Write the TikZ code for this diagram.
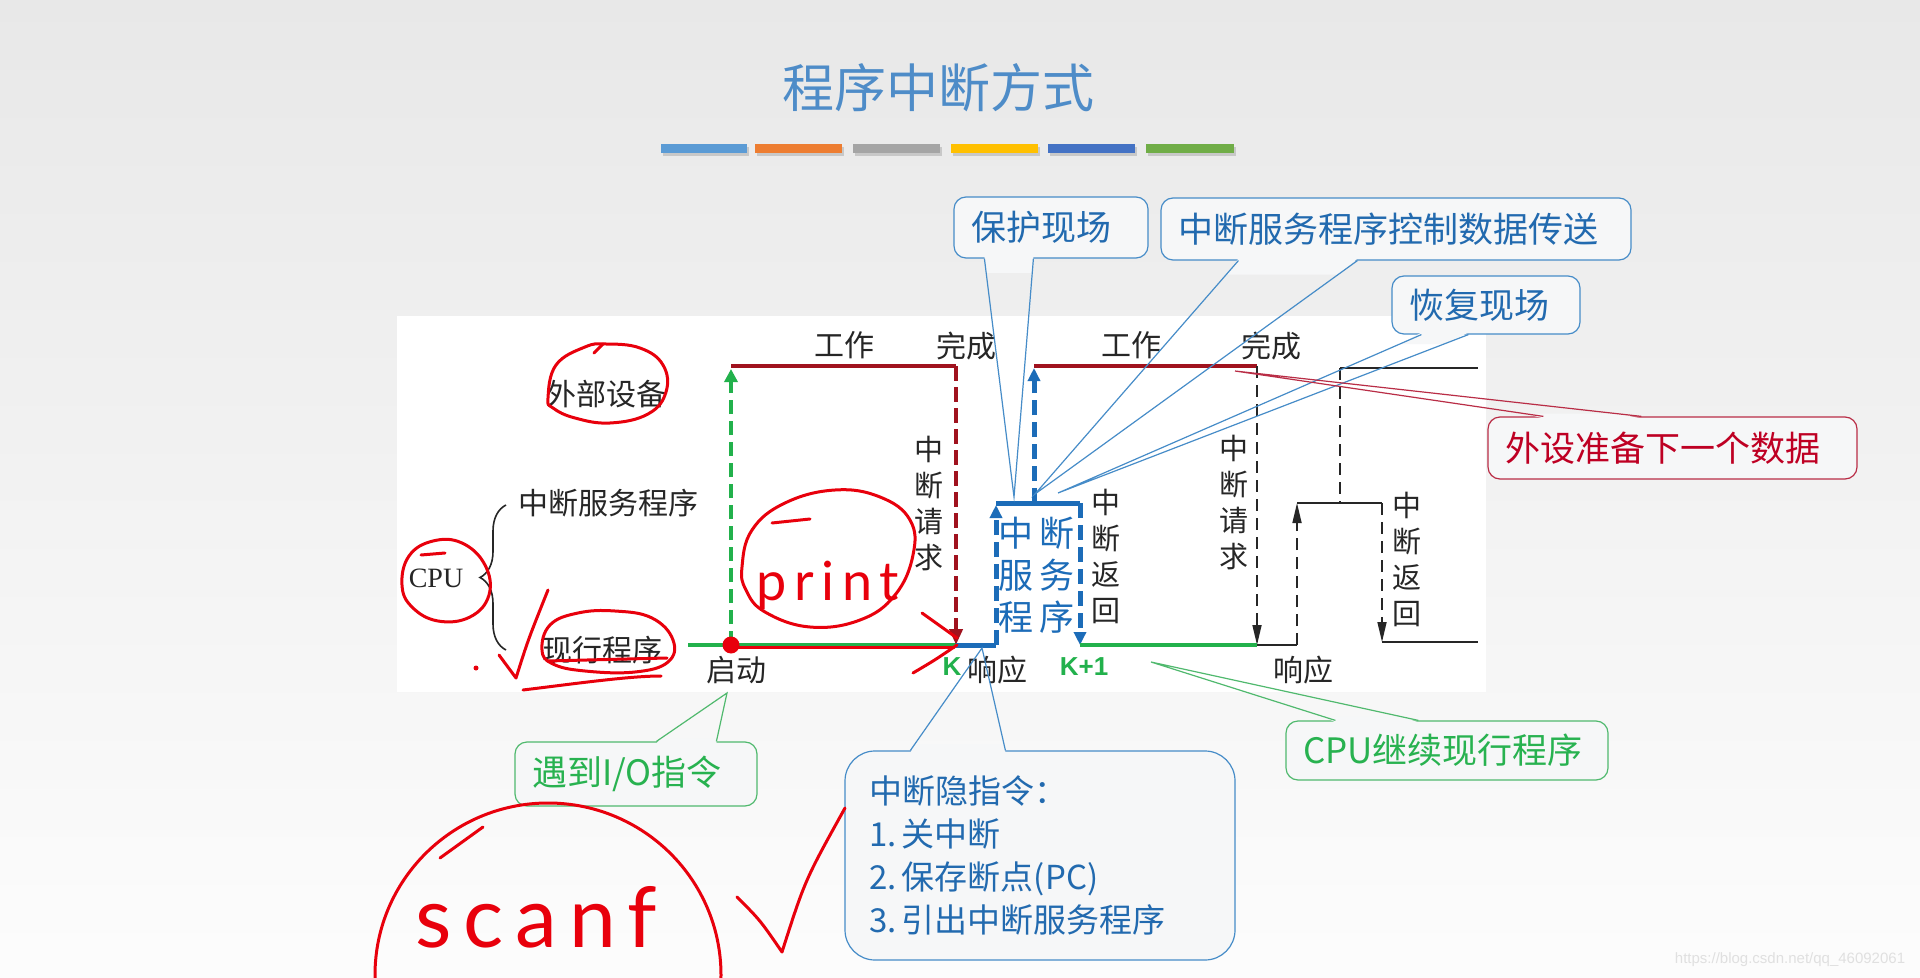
\documentclass[tikz,border=0pt]{standalone}
\usepackage{fontspec}
\setmainfont{Noto Sans CJK SC}
\newfontfamily\enserif{Liberation Serif}
\newfontfamily\ensans{Liberation Sans}
\newfontfamily\handA{Lato}[LetterSpace=14]
\newfontfamily\handB{Lato}[LetterSpace=14]
\usetikzlibrary{arrows.meta,calc,decorations.pathreplacing}

\definecolor{devred}{RGB}{160,18,30}
\definecolor{cpugreen}{RGB}{34,177,76}
\definecolor{isrblue}{RGB}{28,108,184}
\definecolor{penred}{RGB}{232,0,12}
\definecolor{callblue}{RGB}{34,106,175}
\definecolor{callblueline}{RGB}{70,140,200}
\definecolor{callred}{RGB}{190,0,35}
\definecolor{callredline}{RGB}{185,45,70}
\definecolor{callgreen}{RGB}{40,178,80}
\definecolor{callgreenline}{RGB}{80,185,110}
\definecolor{titleblue}{RGB}{78,140,200}
\definecolor{boxfill}{RGB}{246,247,248}
\definecolor{barA}{RGB}{91,155,213}
\definecolor{barB}{RGB}{237,125,49}
\definecolor{barC}{RGB}{165,165,165}
\definecolor{barD}{RGB}{255,192,0}
\definecolor{barE}{RGB}{68,114,196}
\definecolor{barF}{RGB}{112,173,71}

\newcommand\mkptr[5]{%
  \fill[boxfill] ($(#1)+(0,#5)$) -- ($(#2)+(0,#5)$) -- ($(#2)!0.06!(#3)$) -- ($(#1)!0.06!(#3)$) -- cycle;
  \draw[#4, line width=0.6pt] (#1) -- (#3) -- (#2);}

\begin{document}
\begin{tikzpicture}[x=0.5pt,y=-0.5pt,
  lbl/.style={inner sep=0pt, text=black!85, font=\fontsize{15pt}{18pt}\selectfont},
  vlbl/.style={inner sep=0pt, align=center, text=black!85, font=\fontsize{14.5pt}{18pt}\selectfont},
  kl/.style={inner sep=0pt, text=cpugreen, font=\ensans\bfseries\fontsize{13pt}{15pt}\selectfont},
  isrtxt/.style={inner sep=0pt, align=center, text=isrblue, font=\fontsize{17.5pt}{21pt}\selectfont},
  callout/.style={draw, rounded corners=6pt, fill=boxfill, line width=0.6pt, inner xsep=8.5pt, inner ysep=0pt, align=left, font=\fontsize{17.5pt}{21pt}\selectfont},
  bluecall/.style={callout, draw=callblueline, text=callblue},
  redcall/.style={callout, draw=callredline, text=callred},
  greencall/.style={callout, draw=callgreenline, text=callgreen},
  devline/.style={devred, line width=2pt},
  cpuline/.style={cpugreen, line width=2pt},
  isrline/.style={isrblue, line width=2.5pt},
  blk/.style={black!85, line width=1pt},
  reddash/.style={devred, line width=2pt, dash pattern=on 7.5pt off 3pt, -{Triangle[length=8pt,width=6.5pt]}},
  greendash/.style={cpugreen, line width=2pt, dash pattern=on 7pt off 3.5pt, -{Triangle[length=6.5pt,width=6.5pt]}},
  bluedash/.style={isrblue, line width=2.5pt, dash pattern=on 7.5pt off 3.5pt, -{Triangle[length=6.5pt,width=6pt]}},
  blkdash/.style={black!85, line width=0.8pt, dash pattern=on 6pt off 3.5pt},
  blkarrow/.style={blkdash, -{Triangle[length=10pt,width=4.5pt]}},
  pen/.style={penred, line width=1.5pt, line cap=round, line join=round}
]
\useasboundingbox (0,0) rectangle (1920,978);
\begin{scope}
\clip (0,0) rectangle (1920,978);
\shade[top color=black!9, bottom color=black!1] (0,0) rectangle (1920,978);

% title and bars
\node[inner sep=0pt, text=titleblue, font=\fontsize{26pt}{30pt}\selectfont] (title) at (938,88) {程序中断方式};
\foreach \xa/\xb/\c in {661/747/barA, 755/842/barB, 853/940/barC, 951/1038/barD, 1048/1135/barE, 1146/1234/barF}{
  \fill[black!35, opacity=0.5] (\xa+2,147) rectangle (\xb+2,156);
  \fill[\c] (\xa,144) rectangle (\xb,153);
}

% diagram area
\fill[white] (397,316) rectangle (1486,692);

% coordinates
\coordinate (c0) at (688,645);
\coordinate (s) at (731,645);
\coordinate (sT) at (731,366);
\coordinate (k) at (956,645);
\coordinate (kT) at (956,366);
\coordinate (r1) at (996,645);
\coordinate (r1T) at (996,503);
\coordinate (k1T) at (1080,503);
\coordinate (k1) at (1080,645);
\coordinate (d2B) at (1034,503);
\coordinate (d2T) at (1034,366);
\coordinate (q2T) at (1257,366);
\coordinate (q2) at (1257,645);
\coordinate (r2) at (1297,645);
\coordinate (r2T) at (1297,503);
\coordinate (m2) at (1340,503);
\coordinate (m2T) at (1340,368);
\coordinate (x2T) at (1382,503);
\coordinate (x2) at (1382,642);
\coordinate (e2) at (1478,642);
\coordinate (e2T) at (1478,368);

% timeline
\draw[cpuline] (c0) -- (k);
\draw[devline] (sT) -- (kT);
\draw[greendash] (s) -- ($(sT)+(0,3)$);
\draw[reddash] (kT) -- (k);
\draw[isrline] (k) -- (r1);
\draw[bluedash] (r1) -- ($(r1T)+(0,2)$);
\draw[isrline] (r1T) -- (k1T);
\draw[bluedash] (k1T) -- (k1);
\draw[bluedash] (d2B) -- ($(d2T)+(0,2)$);
\draw[devline] (d2T) -- (q2T);
\draw[blkarrow] (q2T) -- (q2);
\draw[cpuline] (k1) -- (q2);
\draw[blk] (q2) -- (r2);
\draw[blkarrow] (r2) -- (r2T);
\draw[blk] (r2T) -- (x2T);
\draw[blkdash] (m2T) -- (m2);
\draw[blkarrow] (x2T) -- (x2);
\draw[blk] (x2) -- (e2);
\draw[blk] (m2T) -- (e2T);

% labels
\node[lbl] (w1) at (844,345) {工作};
\node[lbl] (c1) at (966,346) {完成};
\node[lbl] (w2) at (1131,345) {工作};
\node[lbl] (c2) at (1271,346) {完成};
\node[lbl] (qd) at (736,670) {启动};
\node[lbl] (xy1) at (997,670) {响应};
\node[lbl] (xy2) at (1303,670) {响应};
\node[vlbl] (rq1) at (929,504) {中\\断\\请\\求};
\node[vlbl] (rq2) at (1234,503) {中\\断\\请\\求};
\node[vlbl] (rt1) at (1106,556) {中\\断\\返\\回};
\node[vlbl] (rt2) at (1407,559) {中\\断\\返\\回};
\node[kl] (K) at (952,667) {K};
\node[kl] (K1) at (1084,667) {K+1};
\node[lbl] (dev) at (606,394) {外部设备};
\node[lbl] (isr) at (608,503) {中断服务程序};
\node[lbl] (cur) at (602,650) {现行程序};
\node[inner sep=0pt, text=black!85, font=\enserif\fontsize{14pt}{16pt}\selectfont] (cpu) at (436,578) {CPU};
\draw[decorate, decoration={brace, amplitude=13pt}, black!85, line width=0.8pt] (506,650) -- (506,505);
\node[isrtxt] (isrb) at (1036,575) {中\kern3pt 断\\服\kern3pt 务\\程\kern3pt 序};

% callouts
\node[bluecall, text width=80pt, minimum height=30.5pt] (bh) at (1051,227.5) {保护现场};
\node[bluecall, text width=218pt, minimum height=31pt] (zd) at (1396,229) {中断服务程序控制数据传送};
\node[bluecall, text width=77pt, minimum height=29pt] (hf) at (1486,305) {恢复现场};
\node[redcall, text width=167.5pt, minimum height=31pt] (ws) at (1672.5,448) {外设准备下一个数据};
\node[greencall, text width=144pt, minimum height=29.5pt] (cj) at (1447,750.5) {CPU继续现行程序};
\node[greencall, text width=104pt, minimum height=32pt] (io) at (636,774) {遇到I/O指令};
\node[bluecall, rounded corners=15pt, inner xsep=12pt, text width=171pt, minimum height=104.5pt, font=\fontsize{16.5pt}{21.5pt}\selectfont] (zy) at (1040,855.5) {中断隐指令：\\1.\,关中断\\2.\,保存断点(PC)\\3.\,引出中断服务程序};

\coordinate (tbh) at (1014,497);
\coordinate (tzd) at (1035,494);
\coordinate (thf) at (1058,493);
\coordinate (tws) at (1235,371);
\coordinate (tcj) at (1151,662);
\coordinate (tio) at (727,693);
\coordinate (tzy) at (982,648);

\coordinate (bhA) at ($(bh.south west)+(31,0)$);
\coordinate (bhB) at ($(bh.south west)+(80,0)$);
\coordinate (zdA) at ($(zd.south west)+(78,0)$);
\coordinate (zdB) at ($(zd.south west)+(197,0)$);
\coordinate (hfA) at ($(hf.south west)+(30,0)$);
\coordinate (hfB) at ($(hf.south west)+(77,0)$);
\coordinate (wsA) at ($(ws.north west)+(56,0)$);
\coordinate (wsB) at ($(ws.north west)+(154,0)$);
\coordinate (cjA) at ($(cj.north west)+(50,0)$);
\coordinate (cjB) at ($(cj.north west)+(133,0)$);
\coordinate (ioA) at ($(io.north west)+(142,0)$);
\coordinate (ioB) at ($(io.north west)+(202,0)$);
\coordinate (zyA) at ($(zy.north west)+(66,0)$);
\coordinate (zyB) at ($(zy.north west)+(161,0)$);

\mkptr{bhA}{bhB}{tbh}{callblueline}{-2}
\mkptr{zdA}{zdB}{tzd}{callblueline}{-2}
\mkptr{hfA}{hfB}{thf}{callblueline}{-2}
\mkptr{wsA}{wsB}{tws}{callredline}{2}
\mkptr{cjA}{cjB}{tcj}{callgreenline}{2}
\mkptr{ioA}{ioB}{tio}{callgreenline}{2}
\mkptr{zyA}{zyB}{tzy}{callblueline}{2}

% handwritten annotations
\draw[pen] plot[smooth cycle, tension=0.7] coordinates {(548,398) (556,365) (585,347) (606,344) (640,348) (663,365) (666,392) (648,414) (610,423) (575,418) (553,408)};
\draw[pen] (594,353) -- (603,344);
\draw[pen] plot[smooth cycle, tension=0.7] coordinates {(402,585) (409,556) (433,541) (462,543) (485,565) (489,595) (470,617) (438,621) (412,607)};
\draw[pen] (421,555) -- (445,553);
\draw[pen] plot[smooth cycle, tension=0.7] coordinates {(542,650) (550,625) (578,613) (615,611) (652,618) (673,640) (668,662) (635,672) (585,671) (553,664)};
\draw[pen] (523,690) .. controls (580,683) and (630,676) .. (661,676);
\draw[pen] (547,661) -- (667,658);
\draw[pen] (499,655) -- (516,678) .. controls (528,640) .. (548,590);
\fill[penred] (476,668) circle (2.5);
\draw[pen] plot[smooth cycle, tension=0.7] coordinates {(742,567) (752,530) (785,503) (835,490) (880,497) (910,520) (913,555) (895,595) (860,620) (810,627) (765,612) (746,590)};
\draw[pen] (772,523) -- (810,519);
\node[anchor=base, inner sep=0pt, text=penred, font=\handA\fontsize{27pt}{31pt}\selectfont] (pr) at (828,600) {print};
\draw[pen] (731,647) -- (954,647);
\draw[pen] (922,613) -- (957,638);
\draw[pen] (913,673) .. controls (935,660) .. (957,645);
\fill[penred] (s) circle (8.5);
\draw[pen] (548,975) ellipse [x radius=173, y radius=172];
\draw[pen] (440,858) -- (483,827);
\node[anchor=base, inner sep=0pt, text=penred, font=\handB\fontsize{42pt}{46pt}\selectfont] (sc) at (536,947) {scanf};
\draw[pen] (737,897) .. controls (760,920) .. (782,952) .. controls (805,880) .. (845,808);

% watermark
\node[inner sep=0pt, text=black!12, font=\ensans\fontsize{7.5pt}{9pt}\selectfont] (wm) at (1790,960) {https://blog.csdn.net/qq\_46092061};
\end{scope}
\end{tikzpicture}
\end{document}
